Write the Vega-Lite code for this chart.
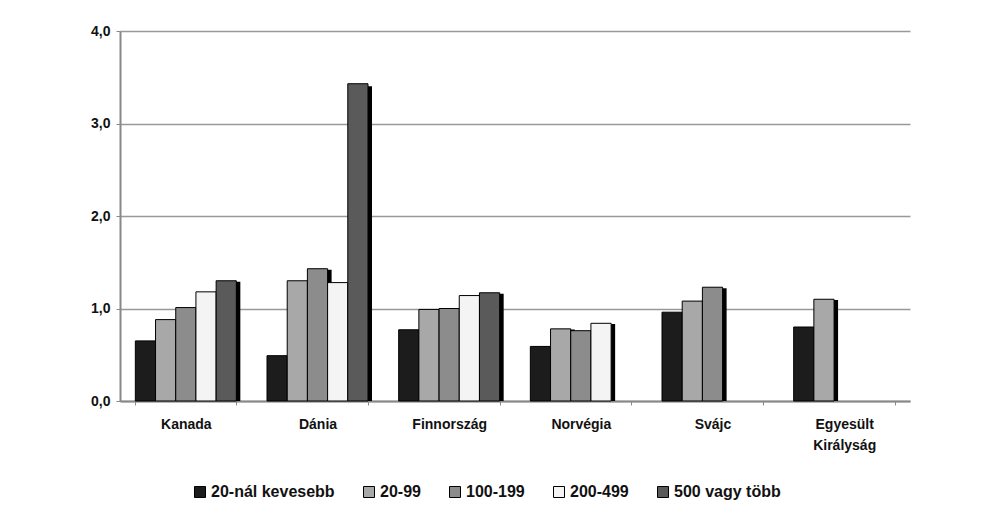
{
  "$schema": "https://vega.github.io/schema/vega-lite/v6.json",
  "width": 790,
  "height": 370,
  "autosize": {"type": "none"},
  "padding": {"left": 120, "top": 31, "right": 80, "bottom": 131},
  "background": "white",
  "config": {
    "font": "Liberation Sans",
    "view": {"stroke": null},
    "axis": {"labelFont": "Liberation Sans", "labelFontWeight": "bold", "labelColor": "#111", "labelFontSize": 14}
  },
  "data": {
    "values": [
      {"orszag": "Kanada", "meret": "20-nál kevesebb", "ertek": 0.65},
      {"orszag": "Kanada", "meret": "20-99", "ertek": 0.88},
      {"orszag": "Kanada", "meret": "100-199", "ertek": 1.01},
      {"orszag": "Kanada", "meret": "200-499", "ertek": 1.18},
      {"orszag": "Kanada", "meret": "500 vagy több", "ertek": 1.30},
      {"orszag": "Dánia", "meret": "20-nál kevesebb", "ertek": 0.49},
      {"orszag": "Dánia", "meret": "20-99", "ertek": 1.30},
      {"orszag": "Dánia", "meret": "100-199", "ertek": 1.43},
      {"orszag": "Dánia", "meret": "200-499", "ertek": 1.28},
      {"orszag": "Dánia", "meret": "500 vagy több", "ertek": 3.43},
      {"orszag": "Finnország", "meret": "20-nál kevesebb", "ertek": 0.77},
      {"orszag": "Finnország", "meret": "20-99", "ertek": 0.99},
      {"orszag": "Finnország", "meret": "100-199", "ertek": 1.00},
      {"orszag": "Finnország", "meret": "200-499", "ertek": 1.14},
      {"orszag": "Finnország", "meret": "500 vagy több", "ertek": 1.17},
      {"orszag": "Norvégia", "meret": "20-nál kevesebb", "ertek": 0.59},
      {"orszag": "Norvégia", "meret": "20-99", "ertek": 0.78},
      {"orszag": "Norvégia", "meret": "100-199", "ertek": 0.76},
      {"orszag": "Norvégia", "meret": "200-499", "ertek": 0.84},
      {"orszag": "Svájc", "meret": "20-nál kevesebb", "ertek": 0.96},
      {"orszag": "Svájc", "meret": "20-99", "ertek": 1.08},
      {"orszag": "Svájc", "meret": "100-199", "ertek": 1.23},
      {"orszag": "Egyesült Királyság", "meret": "20-nál kevesebb", "ertek": 0.80},
      {"orszag": "Egyesült Királyság", "meret": "20-99", "ertek": 1.10}
    ]
  },
  "encoding": {
    "x": {
      "field": "orszag", "type": "nominal", "sort": null, "title": null,
      "scale": {"paddingInner": 0.233, "paddingOuter": 0.1165},
      "axis": {
        "labelAngle": 0, "labelPadding": 12, "domainColor": "#888", "domainWidth": 2,
        "tickColor": "#888", "tickSize": 4, "tickBand": "extent",
        "labelExpr": "datum.label == 'Egyesült Királyság' ? ['Egyesült', 'Királyság'] : datum.label",
        "labelLineHeight": 21
      }
    }
  },
  "layer": [
    {
      "mark": {"type": "bar", "color": "black"},
      "encoding": {
        "xOffset": {
          "field": "meret", "type": "nominal",
          "scale": {"domain": ["20-nál kevesebb", "20-99", "100-199", "200-499", "500 vagy több"], "range": [4, 105], "paddingInner": 0, "paddingOuter": 0}
        },
        "y": {
          "field": "ertek", "type": "quantitative",
          "scale": {"domain": [0, 4], "range": [370, 3]},
          "axis": null
        }
      }
    },
    {
      "mark": {"type": "bar", "stroke": "black", "strokeWidth": 1},
      "encoding": {
        "xOffset": {
          "field": "meret", "type": "nominal",
          "scale": {"domain": ["20-nál kevesebb", "20-99", "100-199", "200-499", "500 vagy több"], "paddingInner": 0, "paddingOuter": 0}
        },
        "y": {
          "field": "ertek", "type": "quantitative", "title": null,
          "scale": {"domain": [0, 4]},
          "axis": {
            "values": [0, 1, 2, 3, 4], "format": ".1f", "grid": true,
            "labelExpr": "replace(datum.label, '.', ',')",
            "gridColor": "#999", "gridWidth": 1.5, "domainColor": "#888", "domainWidth": 2,
            "tickColor": "#888", "tickSize": 4, "labelPadding": 6
          }
        },
        "color": {
          "field": "meret", "type": "nominal", "title": null,
          "scale": {
            "domain": ["20-nál kevesebb", "20-99", "100-199", "200-499", "500 vagy több"],
            "range": ["#1c1c1c", "#a8a8a8", "#8c8c8c", "#f4f4f4", "#5a5a5a"]
          },
          "legend": {
            "orient": "none", "direction": "horizontal", "legendX": 72, "legendY": 453,
            "symbolType": "square", "symbolSize": 121, "symbolStrokeColor": "black", "symbolStrokeWidth": 1,
            "labelFont": "Liberation Sans", "labelFontWeight": "bold", "labelFontSize": 16, "labelColor": "#111",
            "columnPadding": 26, "symbolOffset": 0, "labelOffset": 3
          }
        }
      }
    }
  ],
  "resolve": {"scale": {"y": "independent", "xOffset": "independent"}}
}
